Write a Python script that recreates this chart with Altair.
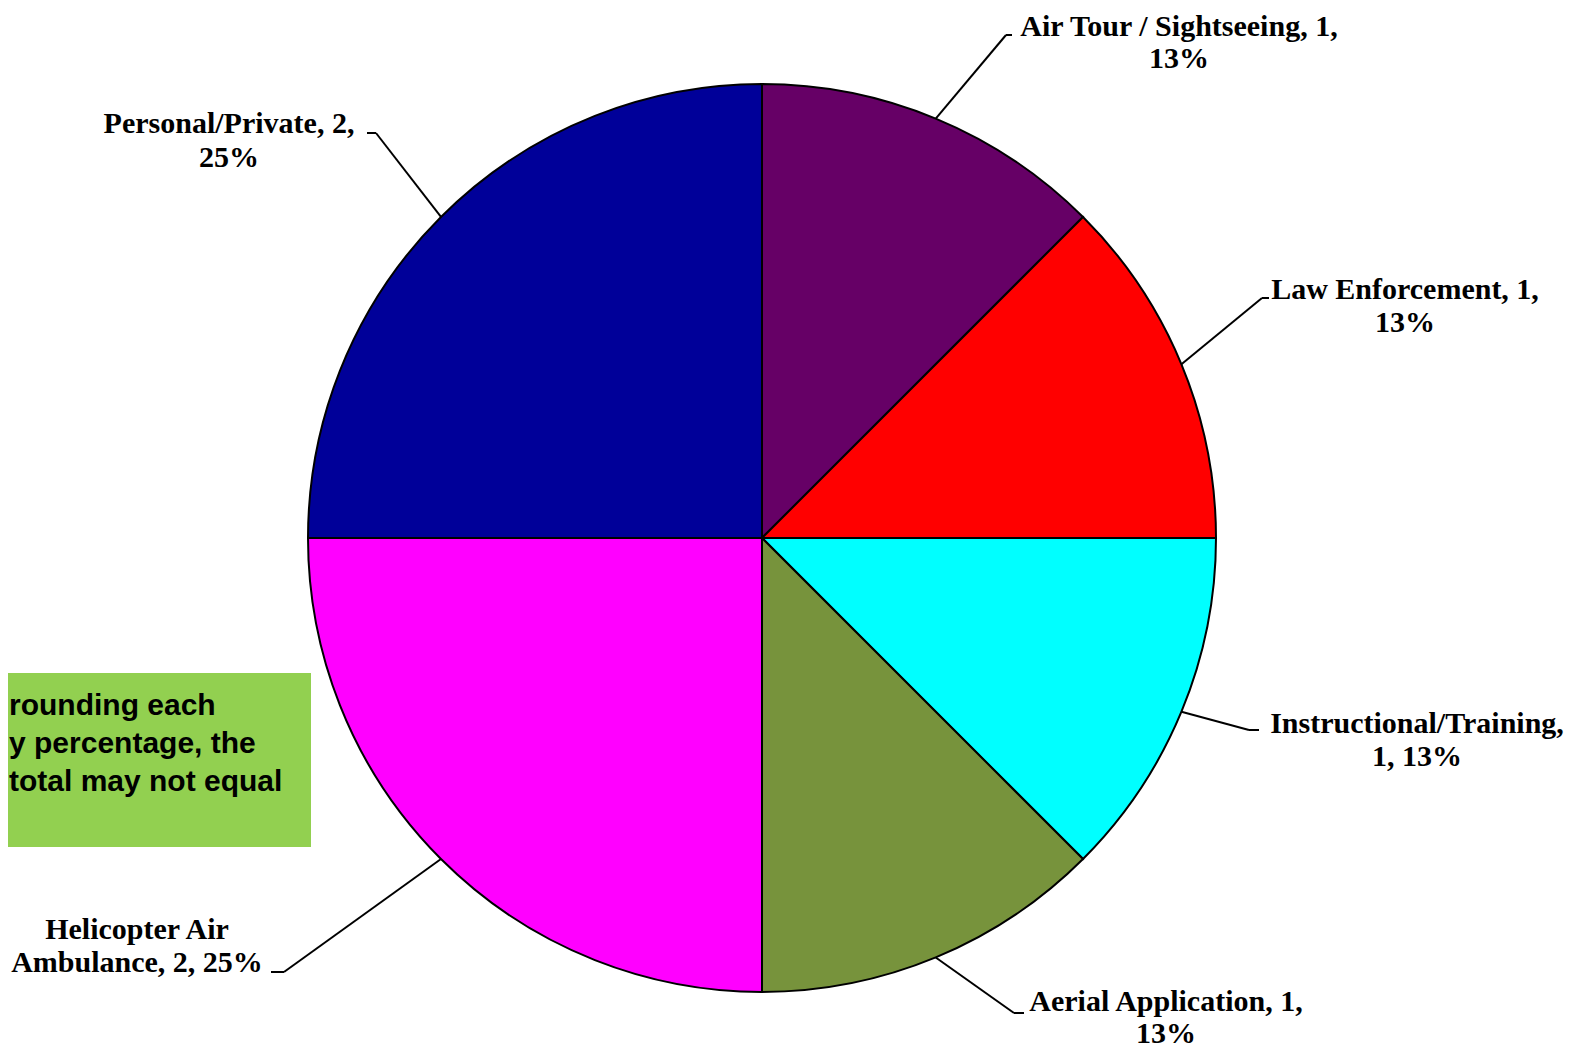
import math
import altair as alt
import pandas as pd

# ---- data ----
categories = ["Air Tour / Sightseeing", "Law Enforcement", "Instructional/Training",
              "Aerial Application", "Helicopter Air Ambulance", "Personal/Private"]
counts = [1, 1, 1, 1, 2, 2]
percents = ["13%", "13%", "13%", "13%", "25%", "25%"]
colors = ["#660066", "#FF0000", "#00FFFF", "#77933C", "#FF00FF", "#000099"]
label_lines = [
    ["Air Tour / Sightseeing, 1,", "13%"],
    ["Law Enforcement, 1,", "13%"],
    ["Instructional/Training,", "1, 13%"],
    ["Aerial Application, 1,", "13%"],
    ["Helicopter Air", "Ambulance, 2, 25%"],
    ["Personal/Private, 2,", "25%"],
]
note_lines = ["rounding each", "y percentage, the", "total may not equal"]

# ---- layout (pixel positions of annotations) ----
W, H = 1569, 1043
CX, CY, R = 754, 530, 454
label_pos = [  # (x center, y line1, y line2)
    (1171, 19, 51), (1397, 282, 315), (1409, 716, 749),
    (1158, 994, 1026), (129, 922, 955), (221, 116, 150)]
elbows = [((998, 27), (1004, 27)), ((1254, 290), (1261, 290)), ((1241, 722), (1251, 722)),
          ((1006, 1005), (1016, 1005)), ((276, 964), (263, 964)), ((368, 125), (359, 125))]
note_left = [1, 1, 1]
note_y = [698, 736, 774]

xs = alt.Scale(domain=[0, W], range=[0, W])
ys = alt.Scale(domain=[0, H], range=[0, H])

pie_df = pd.DataFrame({"cat": categories, "n": counts, "idx": list(range(len(categories)))})

pie = alt.Chart(pie_df).mark_arc(outerRadius=R, stroke="black", strokeWidth=2).encode(
    theta=alt.Theta("n:Q", stack=True),
    color=alt.Color("cat:N", scale=alt.Scale(domain=categories, range=colors), legend=None),
    order=alt.Order("idx:Q"),
    x=alt.value(CX), y=alt.value(CY),
)

# leader lines: start at slice mid-angle on the rim
total = sum(counts)
segs = []
cum = 0
for i, c in enumerate(counts):
    mid = (cum + c / 2) / total * 2 * math.pi
    cum += c
    sx = CX + R * math.sin(mid)
    sy = CY - R * math.cos(mid)
    (ex, ey), (fx, fy) = elbows[i]
    segs.append({"x": sx, "y": sy, "x2": ex, "y2": ey})
    segs.append({"x": ex, "y": ey, "x2": fx, "y2": fy})
seg_df = pd.DataFrame(segs)
leaders = alt.Chart(seg_df).mark_rule(color="black", strokeWidth=2).encode(
    x=alt.X("x:Q", scale=xs, axis=None), y=alt.Y("y:Q", scale=ys, axis=None),
    x2="x2:Q", y2="y2:Q")

rows = []
for (lx, y1, y2), lines in zip(label_pos, label_lines):
    rows.append({"x": lx, "y": y1, "t": lines[0]})
    rows.append({"x": lx, "y": y2, "t": lines[1]})
lab_df = pd.DataFrame(rows)
labels = alt.Chart(lab_df).mark_text(font="Liberation Serif", fontWeight="bold", fontSize=30,
                                     align="center", baseline="middle", color="black").encode(
    x=alt.X("x:Q", scale=xs, axis=None), y=alt.Y("y:Q", scale=ys, axis=None), text="t:N")

box = alt.Chart(pd.DataFrame({"a": [0]})).mark_rect(color="#92D050").encode(
    x=alt.value(0), x2=alt.value(303), y=alt.value(665), y2=alt.value(839))

note_df = pd.DataFrame({"x": note_left, "y": note_y, "t": note_lines})
note = alt.Chart(note_df).mark_text(font="Liberation Sans", fontWeight="bold", fontSize=30,
                                    align="left", baseline="middle", color="black").encode(
    x=alt.X("x:Q", scale=xs, axis=None), y=alt.Y("y:Q", scale=ys, axis=None), text="t:N")

chart = alt.layer(box, note, pie, leaders, labels).properties(
    width=W, height=H, padding=0, autosize=alt.AutoSizeParams(type="none")
).configure_view(stroke=None)

chart.save("out.html", embed_options={"renderer": "svg", "actions": False})
